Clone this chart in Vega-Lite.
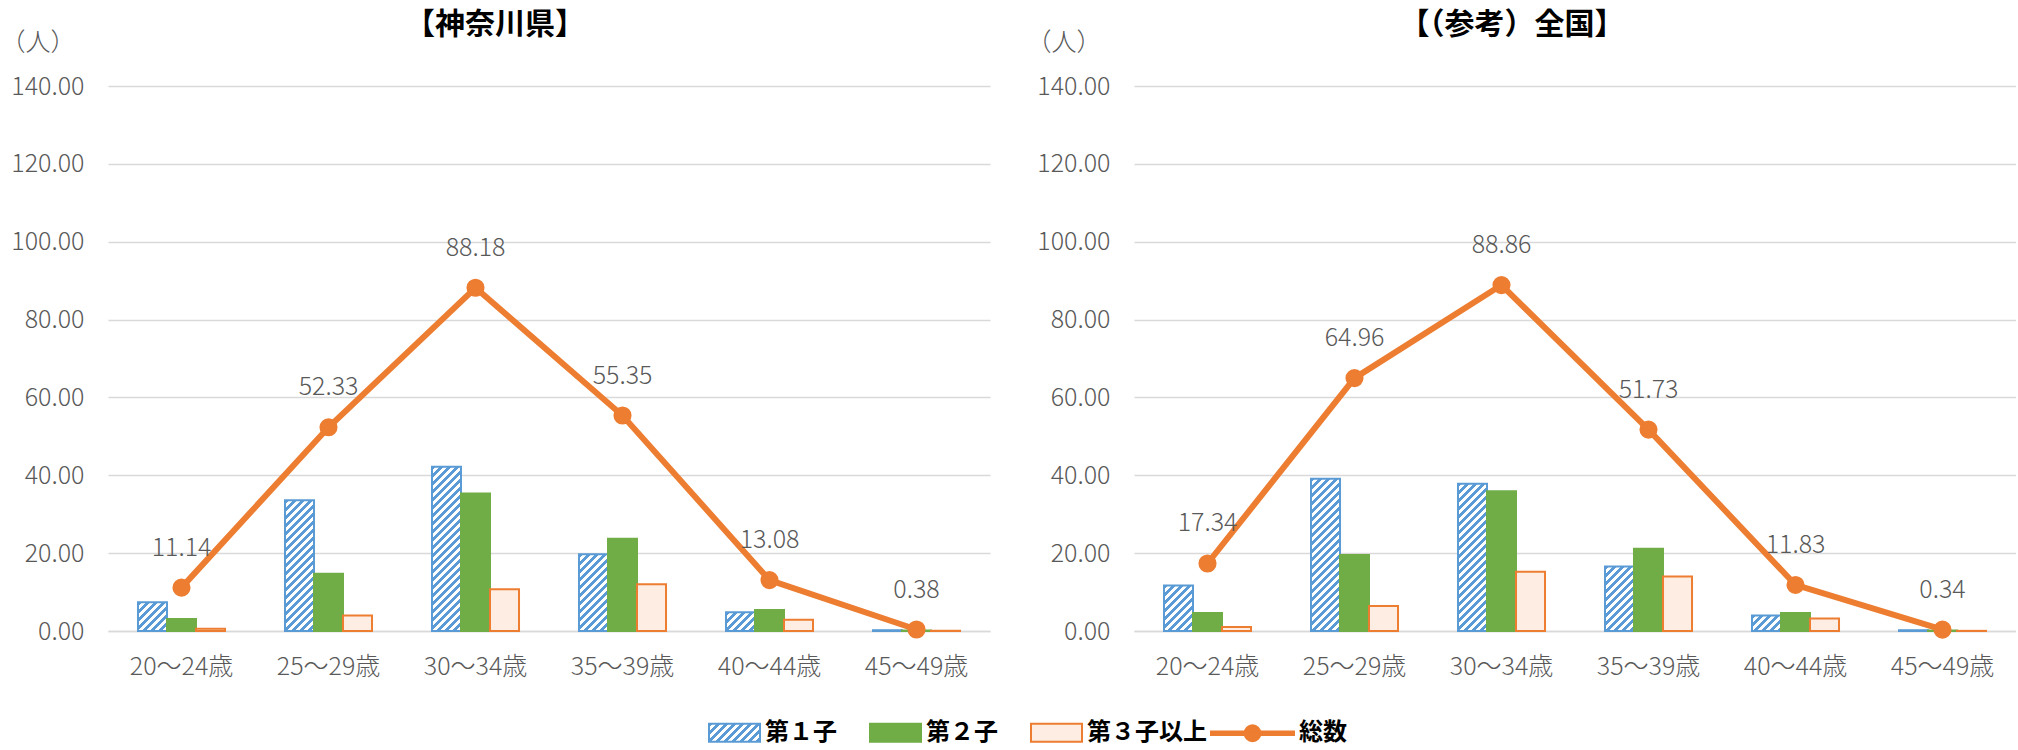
{
  "$schema": "https://vega.github.io/schema/vega-lite/v6.json",
  "padding": {"left": 0, "top": 10, "right": 0, "bottom": 0},
  "autosize": {"type": "pad"},
  "spacing": 36,
  "params": [
    {"name": "hs", "value": [
      {"offset":0,"color":"#5B9BD5"},{"offset":0.02,"color":"#5B9BD5"},{"offset":0.02,"color":"#fff"},{"offset":0.04,"color":"#fff"},
      {"offset":0.04,"color":"#5B9BD5"},{"offset":0.06,"color":"#5B9BD5"},{"offset":0.06,"color":"#fff"},{"offset":0.08,"color":"#fff"},
      {"offset":0.08,"color":"#5B9BD5"},{"offset":0.1,"color":"#5B9BD5"},{"offset":0.1,"color":"#fff"},{"offset":0.12,"color":"#fff"},
      {"offset":0.12,"color":"#5B9BD5"},{"offset":0.14,"color":"#5B9BD5"},{"offset":0.14,"color":"#fff"},{"offset":0.16,"color":"#fff"},
      {"offset":0.16,"color":"#5B9BD5"},{"offset":0.18,"color":"#5B9BD5"},{"offset":0.18,"color":"#fff"},{"offset":0.2,"color":"#fff"},
      {"offset":0.2,"color":"#5B9BD5"},{"offset":0.22,"color":"#5B9BD5"},{"offset":0.22,"color":"#fff"},{"offset":0.24,"color":"#fff"},
      {"offset":0.24,"color":"#5B9BD5"},{"offset":0.26,"color":"#5B9BD5"},{"offset":0.26,"color":"#fff"},{"offset":0.28,"color":"#fff"},
      {"offset":0.28,"color":"#5B9BD5"},{"offset":0.3,"color":"#5B9BD5"},{"offset":0.3,"color":"#fff"},{"offset":0.32,"color":"#fff"},
      {"offset":0.32,"color":"#5B9BD5"},{"offset":0.34,"color":"#5B9BD5"},{"offset":0.34,"color":"#fff"},{"offset":0.36,"color":"#fff"},
      {"offset":0.36,"color":"#5B9BD5"},{"offset":0.38,"color":"#5B9BD5"},{"offset":0.38,"color":"#fff"},{"offset":0.4,"color":"#fff"},
      {"offset":0.4,"color":"#5B9BD5"},{"offset":0.42,"color":"#5B9BD5"},{"offset":0.42,"color":"#fff"},{"offset":0.44,"color":"#fff"},
      {"offset":0.44,"color":"#5B9BD5"},{"offset":0.46,"color":"#5B9BD5"},{"offset":0.46,"color":"#fff"},{"offset":0.48,"color":"#fff"},
      {"offset":0.48,"color":"#5B9BD5"},{"offset":0.5,"color":"#5B9BD5"},{"offset":0.5,"color":"#fff"},{"offset":0.52,"color":"#fff"},
      {"offset":0.52,"color":"#5B9BD5"},{"offset":0.54,"color":"#5B9BD5"},{"offset":0.54,"color":"#fff"},{"offset":0.56,"color":"#fff"},
      {"offset":0.56,"color":"#5B9BD5"},{"offset":0.58,"color":"#5B9BD5"},{"offset":0.58,"color":"#fff"},{"offset":0.6,"color":"#fff"},
      {"offset":0.6,"color":"#5B9BD5"},{"offset":0.62,"color":"#5B9BD5"},{"offset":0.62,"color":"#fff"},{"offset":0.64,"color":"#fff"},
      {"offset":0.64,"color":"#5B9BD5"},{"offset":0.66,"color":"#5B9BD5"},{"offset":0.66,"color":"#fff"},{"offset":0.68,"color":"#fff"},
      {"offset":0.68,"color":"#5B9BD5"},{"offset":0.7,"color":"#5B9BD5"},{"offset":0.7,"color":"#fff"},{"offset":0.72,"color":"#fff"},
      {"offset":0.72,"color":"#5B9BD5"},{"offset":0.74,"color":"#5B9BD5"},{"offset":0.74,"color":"#fff"},{"offset":0.76,"color":"#fff"},
      {"offset":0.76,"color":"#5B9BD5"},{"offset":0.78,"color":"#5B9BD5"},{"offset":0.78,"color":"#fff"},{"offset":0.8,"color":"#fff"},
      {"offset":0.8,"color":"#5B9BD5"},{"offset":0.82,"color":"#5B9BD5"},{"offset":0.82,"color":"#fff"},{"offset":0.84,"color":"#fff"},
      {"offset":0.84,"color":"#5B9BD5"},{"offset":0.86,"color":"#5B9BD5"},{"offset":0.86,"color":"#fff"},{"offset":0.88,"color":"#fff"},
      {"offset":0.88,"color":"#5B9BD5"},{"offset":0.9,"color":"#5B9BD5"},{"offset":0.9,"color":"#fff"},{"offset":0.92,"color":"#fff"},
      {"offset":0.92,"color":"#5B9BD5"},{"offset":0.94,"color":"#5B9BD5"},{"offset":0.94,"color":"#fff"},{"offset":0.96,"color":"#fff"},
      {"offset":0.96,"color":"#5B9BD5"},{"offset":0.98,"color":"#5B9BD5"},{"offset":0.98,"color":"#fff"},{"offset":1,"color":"#fff"}
    ]}
  ],
  "hconcat": [
    {
      "width": 882,
      "height": 545,
      "title": {"text": "【神奈川県】", "frame": "group", "anchor": "middle", "dx": -54, "offset": -10, "fontSize": 30, "fontWeight": "bold", "color": "#000000", "font": "Noto Sans CJK JP"},
      "data": {"values": [
        {"age":"20～24歳","kind":"第１子","v":7.4},
        {"age":"20～24歳","kind":"第２子","v":3.1},
        {"age":"20～24歳","kind":"第３子以上","v":0.6},
        {"age":"20～24歳","kind":"総数","v":11.14},
        {"age":"25～29歳","kind":"第１子","v":33.6},
        {"age":"25～29歳","kind":"第２子","v":14.7},
        {"age":"25～29歳","kind":"第３子以上","v":4.0},
        {"age":"25～29歳","kind":"総数","v":52.33},
        {"age":"30～34歳","kind":"第１子","v":42.2},
        {"age":"30～34歳","kind":"第２子","v":35.3},
        {"age":"30～34歳","kind":"第３子以上","v":10.7},
        {"age":"30～34歳","kind":"総数","v":88.18},
        {"age":"35～39歳","kind":"第１子","v":19.7},
        {"age":"35～39歳","kind":"第２子","v":23.7},
        {"age":"35～39歳","kind":"第３子以上","v":12.0},
        {"age":"35～39歳","kind":"総数","v":55.35},
        {"age":"40～44歳","kind":"第１子","v":4.8},
        {"age":"40～44歳","kind":"第２子","v":5.4},
        {"age":"40～44歳","kind":"第３子以上","v":2.9},
        {"age":"40～44歳","kind":"総数","v":13.08},
        {"age":"45～49歳","kind":"第１子","v":0.2},
        {"age":"45～49歳","kind":"第２子","v":0.12},
        {"age":"45～49歳","kind":"第３子以上","v":0.06},
        {"age":"45～49歳","kind":"総数","v":0.38}
      ]},
      "encoding": {
        "x": {"field": "age", "type": "nominal", "sort": null, "scale": {"paddingInner": 0.408, "paddingOuter": 0.204},
          "axis": {"title": null, "labelAngle": 0, "ticks": false, "domain": true, "domainColor": "#D9D9D9", "domainWidth": 1.5, "labelPadding": 23, "labelFontSize": 25, "labelColor": "#595959", "labelFont": "Noto Sans CJK JP", "labelFontWeight": 300}},
        "y": {"field": "v", "type": "quantitative", "scale": {"domain": [0, 140]},
          "axis": {"values": [0,20,40,60,80,100,120,140], "format": ".2f", "grid": true, "gridColor": "#D9D9D9", "gridWidth": 1.5, "domain": false, "ticks": false, "labelPadding": 24, "labelFontSize": 25, "labelColor": "#595959", "labelFont": "Noto Sans CJK JP", "labelFontWeight": 300,
            "title": "（人）", "titleAngle": 0, "titleAlign": "left", "titleBaseline": "middle", "titleX": -108, "titleY": -44, "titleFontSize": 25, "titleFontWeight": 300, "titleColor": "#595959", "titleFont": "Noto Sans CJK JP"}}
      },
      "layer": [
        {
          "transform": [{"filter": "datum.kind !== '総数'"}],
          "mark": {"type": "bar", "strokeWidth": 2},
          "encoding": {
            "xOffset": {"field": "kind", "type": "nominal", "sort": ["第１子","第２子","第３子以上"], "scale": {"paddingInner": 0, "paddingOuter": 0}},
            "fill": {"field": "kind", "type": "nominal",
              "scale": {"domain": ["第１子","第２子","第３子以上","総数"], "range": [{"expr": "{gradient:'linear',x1:0,y1:0,x2:3.487,y2:1.231,stops:hs}"},"#70AD47","#FDEDE2","#ED7D31"]},
              "condition": [{"test": "datum.kind === '第１子'", "value": {"expr": "{gradient:'linear',x1:0,y1:0,x2:5800/(841+pow(3.893*datum.v,2)),y2:778.6*datum.v/(841+pow(3.893*datum.v,2)),stops:hs}"}}],
              "legend": {
                "title": null, "orient": "none", "legendX": 568, "legendY": 604, "direction": "horizontal",
                "symbolSize": 6889, "symbolStrokeWidth": 2, "symbolOpacity": 1, "labelOffset": 4, "columnPadding": 0,
                "labelFont": "Noto Sans CJK JP", "labelFontSize": 24, "labelFontWeight": "bold", "labelColor": "#000000"
              }},
            "stroke": {"field": "kind", "type": "nominal", "scale": {"domain": ["第１子","第２子","第３子以上","総数"], "range": ["#5B9BD5","#70AD47","#ED7D31","#ED7D31"]}}
          }
        },
        {
          "transform": [{"filter": "datum.kind === '総数'"}],
          "mark": {"type": "line", "strokeWidth": 6, "point": {"filled": true, "fill": "#ED7D31", "size": 260, "opacity": 1}},
          "encoding": {
            "stroke": {"field": "kind", "type": "nominal", "scale": {"domain": ["第１子","第２子","第３子以上","総数"], "range": ["#5B9BD5","#70AD47","#ED7D31","#ED7D31"]}}
          }
        },
        {
          "transform": [{"filter": "datum.kind === 'なし'"}],
          "mark": {"type": "point", "filled": true, "opacity": 1},
          "encoding": {
            "shape": {"field": "kind", "type": "nominal", "scale": {"domain": ["第１子","第２子","第３子以上","総数"], "range": ["M-0.229,-0.217H1V0.217H-0.229Z","M-0.229,-0.217H1V0.217H-0.229Z","M-0.229,-0.217H1V0.217H-0.229Z","M-1,-0.045H1V0.045H-1ZM0.19,0A0.19,0.19,0,1,1,-0.19,0A0.19,0.19,0,1,1,0.19,0Z"]}}
          }
        },
        {
          "transform": [{"filter": "datum.kind === '総数'"}],
          "mark": {"type": "text", "dy": -40, "fontSize": 25, "color": "#595959", "font": "Noto Sans CJK JP", "fontWeight": 300},
          "encoding": {"text": {"field": "v", "type": "quantitative", "format": ".2f"}}
        }
      ]
    },
    {
      "width": 882,
      "height": 545,
      "title": {"text": "【（参考）全国】", "frame": "group", "anchor": "middle", "dx": -63, "offset": -10, "fontSize": 30, "fontWeight": "bold", "color": "#000000", "font": "Noto Sans CJK JP"},
      "data": {"values": [
        {"age":"20～24歳","kind":"第１子","v":11.7},
        {"age":"20～24歳","kind":"第２子","v":4.6},
        {"age":"20～24歳","kind":"第３子以上","v":1.0},
        {"age":"20～24歳","kind":"総数","v":17.34},
        {"age":"25～29歳","kind":"第１子","v":39.1},
        {"age":"25～29歳","kind":"第２子","v":19.5},
        {"age":"25～29歳","kind":"第３子以上","v":6.4},
        {"age":"25～29歳","kind":"総数","v":64.96},
        {"age":"30～34歳","kind":"第１子","v":37.8},
        {"age":"30～34歳","kind":"第２子","v":35.9},
        {"age":"30～34歳","kind":"第３子以上","v":15.2},
        {"age":"30～34歳","kind":"総数","v":88.86},
        {"age":"35～39歳","kind":"第１子","v":16.6},
        {"age":"35～39歳","kind":"第２子","v":21.1},
        {"age":"35～39歳","kind":"第３子以上","v":14.0},
        {"age":"35～39歳","kind":"総数","v":51.73},
        {"age":"40～44歳","kind":"第１子","v":4.0},
        {"age":"40～44歳","kind":"第２子","v":4.6},
        {"age":"40～44歳","kind":"第３子以上","v":3.2},
        {"age":"40～44歳","kind":"総数","v":11.83},
        {"age":"45～49歳","kind":"第１子","v":0.2},
        {"age":"45～49歳","kind":"第２子","v":0.1},
        {"age":"45～49歳","kind":"第３子以上","v":0.04},
        {"age":"45～49歳","kind":"総数","v":0.34}
      ]},
      "encoding": {
        "x": {"field": "age", "type": "nominal", "sort": null, "scale": {"paddingInner": 0.408, "paddingOuter": 0.204},
          "axis": {"title": null, "labelAngle": 0, "ticks": false, "domain": true, "domainColor": "#D9D9D9", "domainWidth": 1.5, "labelPadding": 23, "labelFontSize": 25, "labelColor": "#595959", "labelFont": "Noto Sans CJK JP", "labelFontWeight": 300}},
        "y": {"field": "v", "type": "quantitative", "scale": {"domain": [0, 140]},
          "axis": {"values": [0,20,40,60,80,100,120,140], "format": ".2f", "grid": true, "gridColor": "#D9D9D9", "gridWidth": 1.5, "domain": false, "ticks": false, "labelPadding": 24, "labelFontSize": 25, "labelColor": "#595959", "labelFont": "Noto Sans CJK JP", "labelFontWeight": 300,
            "title": "（人）", "titleAngle": 0, "titleAlign": "left", "titleBaseline": "middle", "titleX": -108, "titleY": -44, "titleFontSize": 25, "titleFontWeight": 300, "titleColor": "#595959", "titleFont": "Noto Sans CJK JP"}}
      },
      "layer": [
        {
          "transform": [{"filter": "datum.kind !== '総数'"}],
          "mark": {"type": "bar", "strokeWidth": 2},
          "encoding": {
            "xOffset": {"field": "kind", "type": "nominal", "sort": ["第１子","第２子","第３子以上"], "scale": {"paddingInner": 0, "paddingOuter": 0}},
            "fill": {"field": "kind", "type": "nominal",
              "scale": {"domain": ["第１子","第２子","第３子以上","総数"], "range": [{"expr": "{gradient:'linear',x1:0,y1:0,x2:3.487,y2:1.231,stops:hs}"},"#70AD47","#FDEDE2","#ED7D31"]},
              "condition": [{"test": "datum.kind === '第１子'", "value": {"expr": "{gradient:'linear',x1:0,y1:0,x2:5800/(841+pow(3.893*datum.v,2)),y2:778.6*datum.v/(841+pow(3.893*datum.v,2)),stops:hs}"}}]},
            "stroke": {"field": "kind", "type": "nominal", "scale": {"domain": ["第１子","第２子","第３子以上","総数"], "range": ["#5B9BD5","#70AD47","#ED7D31","#ED7D31"]}}
          }
        },
        {
          "transform": [{"filter": "datum.kind === '総数'"}],
          "mark": {"type": "line", "strokeWidth": 6, "point": {"filled": true, "fill": "#ED7D31", "size": 260, "opacity": 1}},
          "encoding": {
            "stroke": {"field": "kind", "type": "nominal", "scale": {"domain": ["第１子","第２子","第３子以上","総数"], "range": ["#5B9BD5","#70AD47","#ED7D31","#ED7D31"]}}
          }
        },
        {
          "transform": [{"filter": "datum.kind === '総数'"}],
          "mark": {"type": "text", "dy": -40, "fontSize": 25, "color": "#595959", "font": "Noto Sans CJK JP", "fontWeight": 300},
          "encoding": {"text": {"field": "v", "type": "quantitative", "format": ".2f"}}
        }
      ]
    }
  ],
  "resolve": {
    "scale": {"fill": "shared", "stroke": "shared", "shape": "shared"},
    "legend": {"fill": "shared", "stroke": "shared", "shape": "shared"}
  },
  "config": {
    "view": {"stroke": null},
    "font": "Noto Sans CJK JP",
    "background": "#ffffff"
  }
}
